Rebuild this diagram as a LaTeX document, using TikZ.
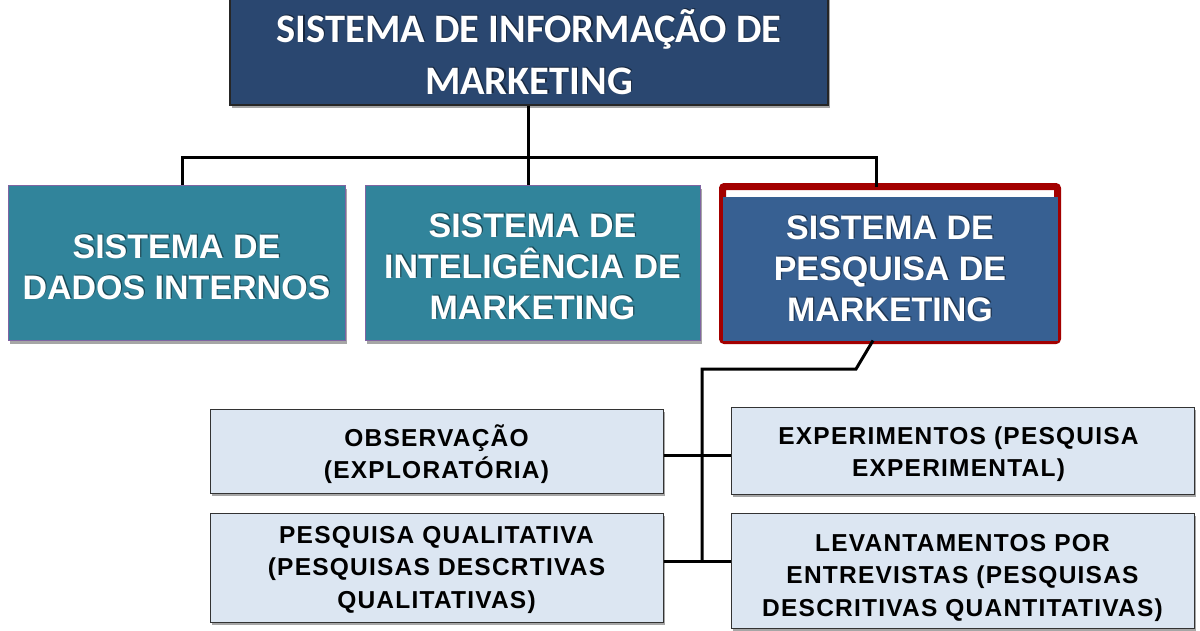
\documentclass[tikz,border=0pt]{standalone}
\usepackage{fontspec}
\setmainfont{Liberation Sans}
\newfontfamily\calfont{Carlito}
\newfontfamily\spacedfont[LetterSpace=5]{Liberation Sans}
\usetikzlibrary{shadows}
\definecolor{topblue}{HTML}{2A4770}
\definecolor{teal2}{HTML}{31849B}
\definecolor{blue3}{HTML}{376092}
\definecolor{red3}{HTML}{A30000}
\definecolor{light3}{HTML}{DCE6F2}
\definecolor{purp}{HTML}{8064A2}
\begin{document}
\begin{tikzpicture}[x=1pt,y=-1pt,
  shad/.style={drop shadow={shadow xshift=2pt,shadow yshift=-3pt,opacity=0.35,fill=black}},
  topbox/.style={draw=black!85,line width=1.2pt,fill=topblue,shad,inner sep=0pt},
  lvtwo/.style={draw=purp,line width=1pt,fill=teal2,shad,inner sep=0pt},
  redbox/.style={draw=red3,line width=7pt,fill=white,rounded corners=2pt,shad,inner sep=0pt},
  lvthree/.style={draw=black!80,line width=1pt,fill=light3,shad,inner sep=0pt},
  toptext/.style={text=white,align=center,font=\calfont\bfseries\fontsize{40.5}{52}\selectfont},
  twotext/.style={text=white,align=center,font=\bfseries\fontsize{34}{41}\selectfont},
  txtshadow/.style={text=black,opacity=0.45,xshift=1.2pt,yshift=1.2pt},
  threetext/.style={text=black,align=center,font=\spacedfont\bfseries\fontsize{24.5}{32.5}\selectfont},
  conn/.style={draw=black,line width=3pt}]
\useasboundingbox (0,0) rectangle (1200,630);
\clip (0,0) rectangle (1200,630);
\fill[white] (0,0) rectangle (1200,630);

% top box
\node[topbox,minimum width=598pt,minimum height=112pt] (top) at (529,49) {};
\node[toptext,txtshadow] (toplblsh) at (529,52) {SISTEMA DE INFORMAÇÃO DE\\MARKETING};
\node[toptext] (toplbl) at (529,52) {SISTEMA DE INFORMAÇÃO DE\\MARKETING};

% level two
\node[lvtwo,minimum width=337pt,minimum height=155pt] (a) at (176.5,263) {};
\node[twotext,txtshadow] (albls) at (176.5,267) {SISTEMA DE\\DADOS INTERNOS};
\node[twotext] (albl) at (176.5,267) {SISTEMA DE\\DADOS INTERNOS};
\node[lvtwo,minimum width=335pt,minimum height=155pt] (b) at (532.5,263) {};
\node[twotext,txtshadow] (blbls) at (532.5,267) {SISTEMA DE\\INTELIGÊNCIA DE\\MARKETING};
\node[twotext] (blbl) at (532.5,267) {SISTEMA DE\\INTELIGÊNCIA DE\\MARKETING};
\node[redbox,minimum width=335pt,minimum height=154pt] (c) at (890,263.5) {};
\fill[blue3] ([shift={(3.5,13.5)}]c.north west) rectangle ([shift={(-3.5,-3.5)}]c.south east);
\node[twotext,txtshadow] (clbls) at (890,269) {SISTEMA DE\\PESQUISA DE\\MARKETING};
\node[twotext] (clbl) at (890,269) {SISTEMA DE\\PESQUISA DE\\MARKETING};

% level three
\node[lvthree,minimum width=453pt,minimum height=84pt] (d) at (436.5,451) {};
\node[threetext] (dlbl) at (436.5,454) {OBSERVAÇÃO\\(EXPLORATÓRIA)};
\node[lvthree,minimum width=463pt,minimum height=87pt] (e) at (962.5,450.5) {};
\node[threetext] (elbl) at (958.5,454) {EXPERIMENTOS (PESQUISA\\EXPERIMENTAL)};
\node[lvthree,minimum width=453pt,minimum height=109pt] (f) at (436.5,567.5) {};
\node[threetext] (flbl) at (436.5,569.5) {PESQUISA QUALITATIVA\\(PESQUISAS DESCRTIVAS\\QUALITATIVAS)};
\node[lvthree,minimum width=463pt,minimum height=115pt] (g) at (962.5,570.5) {};
\node[threetext] (glbl) at (962.5,577.5) {LEVANTAMENTOS POR\\ENTREVISTAS (PESQUISAS\\DESCRITIVAS QUANTITATIVAS)};

% connectors top
\coordinate (busL) at (182,157);
\coordinate (busR) at (876,157);
\coordinate (busM) at (528,157);
\draw[conn] (busM |- top.south) -- (busM |- b.north);
\draw[conn,line join=miter] (busL |- a.north) -- (busL) -- (busR) -- ([yshift=-3.5pt]busR |- c.north);

% connectors bottom
\coordinate (kink) at (856,369);
\coordinate (spine) at (702,369);
\coordinate (j1) at (702,455);
\coordinate (j2) at (702,561);
\draw[conn,line join=miter] ([xshift=-17pt,yshift=3.5pt]c.south) -- (kink) -- (spine) -- (j2);
\draw[conn] (d.east |- j1) -- (e.west |- j1);
\draw[conn] (f.east |- j2) -- (g.west |- j2);
\end{tikzpicture}
\end{document}
